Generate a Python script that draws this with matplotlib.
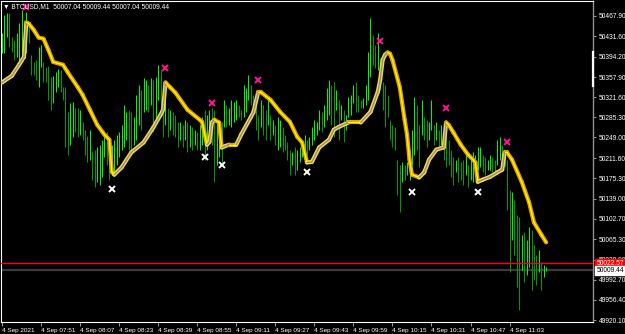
import matplotlib
matplotlib.use('Agg')
import numpy as np
import matplotlib.pyplot as plt
from matplotlib.collections import LineCollection
from matplotlib.lines import Line2D

plt.rcParams['font.family'] = ['Liberation Sans', 'DejaVu Sans']

# BTCUSD M1, one bar per minute from 07:35
highs = [50438, 50470, 50474, 50474, 50430, 50425, 50438, 50456, 50479, 50461,
         50475, 50456, 50398, 50385, 50389, 50412, 50416, 50385, 50376, 50378,
         50358, 50360, 50367, 50373, 50371, 50340, 50340, 50295, 50312, 50313,
         50303, 50303, 50299, 50276, 50263, 50252, 50263, 50223, 50227, 50232,
         50236, 50245, 50258, 50259, 50245, 50236, 50245, 50254, 50259, 50272,
         50308, 50295, 50299, 50295, 50285, 50326, 50344, 50335, 50357, 50353,
         50344, 50357, 50353, 50358, 50380, 50371, 50344, 50326, 50303, 50299,
         50295, 50290, 50277, 50277, 50272, 50281, 50276, 50272, 50267, 50263,
         50258, 50272, 50285, 50299, 50290, 50299, 50303, 50299, 50281, 50277,
         50276, 50317, 50308, 50303, 50317, 50313, 50317, 50308, 50299, 50344,
         50339, 50362, 50344, 50326, 50322, 50290, 50317, 50308, 50299, 50317,
         50290, 50281, 50272, 50285, 50281, 50267, 50254, 50240, 50227, 50223,
         50231, 50227, 50231, 50245, 50254, 50245, 50250, 50267, 50281, 50277,
         50299, 50295, 50308, 50339, 50353, 50344, 50349, 50335, 50317, 50308,
         50299, 50290, 50322, 50326, 50344, 50349, 50326, 50317, 50321, 50344,
         50403, 50465, 50434, 50416, 50438, 50389, 50349, 50344, 50326, 50281,
         50272, 50267, 50209, 50200, 50205, 50200, 50205, 50227, 50263, 50322,
         50308, 50272, 50317, 50285, 50281, 50277, 50317, 50272, 50276, 50263,
         50272, 50268, 50263, 50245, 50227, 50214, 50209, 50213, 50205, 50209,
         50218, 50200, 50209, 50222, 50218, 50232, 50231, 50218, 50214, 50209,
         50218, 50213, 50209, 50245, 50249, 50236, 50227, 50209, 50155, 50151,
         50137, 50110, 50106, 50074, 50078, 50065, 50087, 50083, 50056, 50038,
         50047, 50025, 50020, 50015]
lows = [50402, 50402, 50430, 50412, 50403, 50389, 50394, 50389, 50403, 50394,
        50402, 50420, 50362, 50362, 50353, 50340, 50376, 50349, 50349, 50317,
        50299, 50312, 50331, 50340, 50331, 50317, 50231, 50218, 50236, 50250,
        50259, 50250, 50254, 50245, 50218, 50204, 50209, 50173, 50160, 50168,
        50164, 50178, 50214, 50200, 50173, 50187, 50182, 50200, 50214, 50227,
        50232, 50245, 50227, 50218, 50236, 50245, 50272, 50263, 50294, 50299,
        50295, 50308, 50258, 50281, 50317, 50308, 50250, 50272, 50250, 50263,
        50254, 50250, 50232, 50245, 50232, 50245, 50222, 50231, 50227, 50236,
        50227, 50227, 50236, 50209, 50227, 50245, 50236, 50168, 50200, 50213,
        50200, 50267, 50267, 50272, 50268, 50276, 50281, 50285, 50281, 50286,
        50295, 50317, 50308, 50290, 50263, 50245, 50267, 50254, 50245, 50272,
        50245, 50254, 50236, 50227, 50231, 50222, 50227, 50209, 50182, 50200,
        50182, 50191, 50204, 50213, 50227, 50218, 50227, 50236, 50245, 50254,
        50263, 50258, 50267, 50281, 50290, 50272, 50249, 50299, 50245, 50281,
        50240, 50263, 50286, 50290, 50312, 50295, 50295, 50303, 50303, 50308,
        50317, 50358, 50380, 50375, 50371, 50335, 50299, 50268, 50285, 50245,
        50231, 50227, 50146, 50114, 50169, 50173, 50182, 50173, 50200, 50218,
        50227, 50196, 50254, 50245, 50232, 50245, 50263, 50236, 50245, 50232,
        50236, 50209, 50196, 50200, 50177, 50164, 50187, 50168, 50173, 50164,
        50182, 50160, 50173, 50168, 50182, 50191, 50195, 50187, 50182, 50191,
        50191, 50186, 50187, 50200, 50209, 50209, 50196, 50119, 50006, 50065,
        50038, 49980, 49939, 50011, 49988, 50002, 50015, 49975, 49993, 49984,
        50007, 49975, 49997, 50009]

# smoothed trend line (bar index, price)
ma_idx = [0, 4, 7, 9, 10, 11, 13, 15, 17, 19, 21, 25, 27, 31, 33, 36, 39, 42,
          44, 45, 46, 49, 53, 58, 62, 65, 66, 67, 69, 71, 76, 81, 82, 84, 85,
          86, 87, 89, 90, 93, 96, 98, 102, 103, 105, 106, 110, 114, 118, 121,
          123, 125, 127, 130, 134, 136, 138, 142, 147, 151, 154, 155, 156, 157,
          158, 159, 160, 163, 165, 166, 167, 168, 171, 173, 175, 178, 181, 182,
          183, 185, 188, 191, 193, 194, 195, 197, 200, 203, 205, 206, 207, 209,
          213, 216, 218, 221, 223]
ma_val = [50348, 50360, 50380, 50394, 50456, 50454, 50443, 50429, 50427, 50407,
          50385, 50380, 50366, 50340, 50326, 50299, 50272, 50254, 50245, 50187,
          50182, 50195, 50222, 50240, 50267, 50290, 50299, 50348, 50339, 50330,
          50299, 50281, 50277, 50236, 50241, 50276, 50281, 50276, 50231, 50236,
          50236, 50254, 50286, 50294, 50331, 50331, 50317, 50295, 50277, 50250,
          50240, 50204, 50205, 50231, 50245, 50263, 50268, 50276, 50276, 50295,
          50331, 50353, 50389, 50398, 50402, 50400, 50389, 50340, 50281, 50254,
          50209, 50182, 50177, 50186, 50209, 50227, 50231, 50276, 50272, 50258,
          50236, 50218, 50209, 50204, 50169, 50173, 50178, 50186, 50191, 50222,
          50222, 50209, 50169, 50132, 50096, 50074, 50060]

sell_idx = [10, 67, 86, 105, 155, 182, 207]
sell_val = [50484, 50375, 50312, 50353, 50423, 50303, 50240]
buy_idx = [45, 83, 90, 125, 168, 195]
buy_val = [50157, 50214, 50200, 50186, 50151, 50150]

price_ticks = [50467.90, 50431.60, 50394.20, 50357.90, 50321.60, 50285.30,
               50249.00, 50211.60, 50175.30, 50139.00, 50102.70, 50065.30,
               50028.90, 49992.70, 49956.40, 49920.10]
time_pos = [0, 16, 32, 48, 64, 80, 96, 112, 128, 144, 160, 176, 192, 208]
time_labels = ['4 Sep 2021', '4 Sep 07:51', '4 Sep 08:07', '4 Sep 08:23',
               '4 Sep 08:39', '4 Sep 08:55', '4 Sep 09:11', '4 Sep 09:27',
               '4 Sep 09:43', '4 Sep 09:59', '4 Sep 10:15', '4 Sep 10:31',
               '4 Sep 10:47', '4 Sep 11:03']
ask_price = 50022.57
bid_price = 50009.44

fig = plt.figure(figsize=(6.25, 3.34), dpi=100, facecolor='black')
ax = fig.add_axes([1/625, 12/334, 592/625, 321/334], facecolor='black')

x = np.arange(len(highs))
hi = np.array(highs)
lo = np.array(lows)
mid = (hi + lo) / 2
up = mid >= np.roll(mid, 1)
cols = np.where(up, '#00ff00', '#00a000')
ax.vlines(x, lo, hi, colors=cols, linewidth=0.7, zorder=2)

# trend line: gold/yellow when falling, yellow/blue when rising
pts = np.column_stack([ma_idx, ma_val]).astype(float)
segs = np.stack([pts[:-1], pts[1:]], axis=1)
rising = np.diff(ma_val) > 0
outer = ['#ffe000' if r else '#e6a200' for r in rising]
inner = ['#7a7aff' if r else '#ffff00' for r in rising]
ax.add_collection(LineCollection(segs, colors=outer, linewidths=3.0,
                                 capstyle='round', joinstyle='round', zorder=4))
ax.add_collection(LineCollection(segs, colors=inner, linewidths=0.9,
                                 capstyle='round', joinstyle='round', zorder=5))

ax.plot(sell_idx, sell_val, 'x', color='#ff1493', ms=4.5, mew=1.4, zorder=6)
ax.plot(buy_idx, buy_val, 'x', color='white', ms=4.5, mew=1.4, zorder=6)

ax.axhline(ask_price, color='#ff0000', lw=1.0, zorder=3)
ax.axhline(bid_price, color='#3a3a3a', lw=1.6, zorder=1)

ax.set_xlim(-0.41, 242.2)
ax.set_ylim(49916.5, 50494.9)

ax.yaxis.tick_right()
ax.set_yticks(price_ticks)
ax.set_yticklabels(['%.2f' % p for p in price_ticks])
ax.set_xticks(time_pos)
ax.set_xticklabels(time_labels, ha='left')
ax.tick_params(axis='y', colors='#b0b0b0', labelcolor='white', labelsize=4.8,
               length=2.5, width=0.6, pad=1.5)
ax.tick_params(axis='x', colors='#b0b0b0', labelcolor='white', labelsize=4.6,
               length=3, width=0.6, pad=1)

for s in ['top', 'left', 'bottom']:
    ax.spines[s].set_color('white')
    ax.spines[s].set_linewidth(0.8)
ax.spines['right'].set_color('#909090')
ax.spines['right'].set_linewidth(1)

ax.text(1.006, ask_price, '%.2f' % ask_price, transform=ax.get_yaxis_transform(),
        color='white', fontsize=4.8, va='center', ha='left', zorder=10,
        bbox=dict(facecolor='red', edgecolor='red', pad=0.8), clip_on=False)
ax.text(1.006, bid_price, '%.2f' % bid_price, transform=ax.get_yaxis_transform(),
        color='black', fontsize=4.8, va='center', ha='left', zorder=10,
        bbox=dict(facecolor='white', edgecolor='white', pad=0.8), clip_on=False)

fig.add_artist(Line2D([593/625, 593/625], [1 - 52/334, 1 - 86/334],
                      color='white', lw=1.6))
fig.text(3/625, 1 - 7/334, '\u25bc BTCUSD,M1  50007.04 50009.44 50007.04 50009.44',
         color='white', fontsize=4.8, va='center', ha='left')

fig.savefig('out.png', dpi=100, facecolor='black')
